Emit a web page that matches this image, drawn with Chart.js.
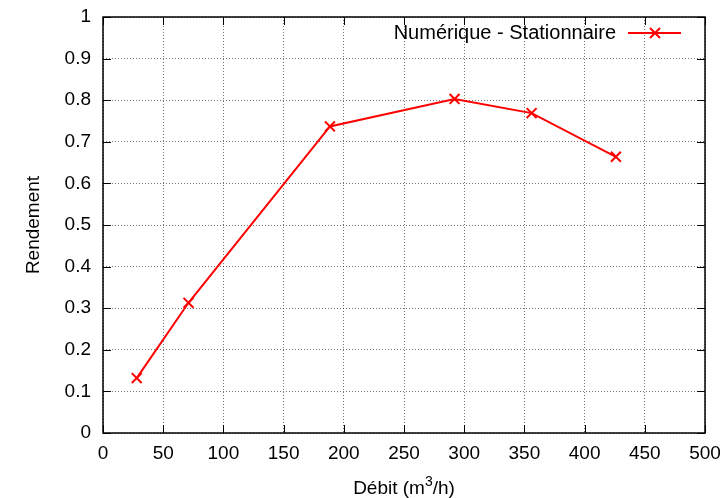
<!DOCTYPE html>
<html>
<head>
    <title>Rendement</title>
    <script src="https://cdnjs.cloudflare.com/ajax/libs/Chart.js/4.4.1/chart.umd.min.js"></script>
    <style>
        body { margin: 0; background: white; }
        #chart-container { width: 726px; height: 498px; }
    </style>
</head>
<body>
    <div id="chart-container">
        <canvas id="rendChart" width="726" height="498"></canvas>
    </div>
    <script>
        // Débit (m3/h) and rendement
        const debit = [28, 71, 188.5, 292, 356, 426];
        const rendement = [0.132, 0.313, 0.737, 0.803, 0.769, 0.664];
        const seriesName = 'Numérique - Stationnaire';
        const xTicks = [0, 50, 100, 150, 200, 250, 300, 350, 400, 450, 500];
        const yTicks = [0, 0.1, 0.2, 0.3, 0.4, 0.5, 0.6, 0.7, 0.8, 0.9, 1];

        const font = "'Liberation Sans', Arial, sans-serif";
        const fontSize = 19;

        // gnuplot-like frame: border, inward ticks on all four sides, legend, x title
        const framePlugin = {
            id: 'frame',
            afterDatasetsDraw(chart) {
                const ctx = chart.ctx;
                const a = chart.chartArea;
                const xs = chart.scales.x, ys = chart.scales.y;
                ctx.save();
                ctx.strokeStyle = '#000';
                ctx.lineWidth = 1;
                ctx.beginPath();
                xTicks.forEach(v => {
                    const px = Math.round(xs.getPixelForValue(v)) + 0.5;
                    ctx.moveTo(px, a.bottom); ctx.lineTo(px, a.bottom - 8);
                    ctx.moveTo(px, a.top); ctx.lineTo(px, a.top + 8);
                });
                yTicks.forEach(v => {
                    const py = Math.round(ys.getPixelForValue(v)) + 0.5;
                    ctx.moveTo(a.left, py); ctx.lineTo(a.left + 8, py);
                    ctx.moveTo(a.right, py); ctx.lineTo(a.right - 8, py);
                });
                ctx.stroke();
                ctx.lineWidth = 1.5;
                ctx.strokeRect(a.left, a.top, a.right - a.left, a.bottom - a.top);

                // legend
                const ly = a.top + 16;
                ctx.font = '20px ' + font;
                ctx.fillStyle = '#000';
                ctx.textAlign = 'right';
                ctx.textBaseline = 'middle';
                ctx.fillText(seriesName, a.right - 89, ly);
                ctx.strokeStyle = '#ff0000';
                ctx.lineWidth = 2;
                ctx.beginPath();
                ctx.moveTo(a.right - 77, ly); ctx.lineTo(a.right - 24, ly);
                const mx = a.right - 50, r = 5;
                ctx.moveTo(mx - r, ly - r); ctx.lineTo(mx + r, ly + r);
                ctx.moveTo(mx - r, ly + r); ctx.lineTo(mx + r, ly - r);
                ctx.stroke();

                // x axis title with a real superscript
                const parts = ['Débit (m', '3', '/h)'];
                const small = Math.round(fontSize * 0.75) + 'px ' + font;
                const big = fontSize + 'px ' + font;
                ctx.font = big; const w0 = ctx.measureText(parts[0]).width, w2 = ctx.measureText(parts[2]).width;
                ctx.font = small; const w1 = ctx.measureText(parts[1]).width;
                let tx = (a.left + a.right) / 2 - (w0 + w1 + w2) / 2;
                const ty = 494;
                ctx.fillStyle = '#000';
                ctx.textAlign = 'left';
                ctx.textBaseline = 'alphabetic';
                ctx.font = big; ctx.fillText(parts[0], tx, ty); tx += w0;
                ctx.font = small; ctx.fillText(parts[1], tx, ty - 8); tx += w1;
                ctx.font = big; ctx.fillText(parts[2], tx, ty);
                ctx.restore();
            }
        };

        const ctx = document.getElementById('rendChart').getContext('2d');
        new Chart(ctx, {
            type: 'line',
            data: {
                datasets: [{
                    label: seriesName,
                    data: debit.map((d, i) => ({ x: d, y: rendement[i] })),
                    borderColor: '#ff0000',
                    backgroundColor: '#ff0000',
                    borderWidth: 2,
                    pointStyle: 'crossRot',
                    pointRadius: 7,
                    pointBorderWidth: 2,
                    tension: 0
                }]
            },
            options: {
                responsive: false,
                animation: false,
                layout: { padding: { top: 17, right: 21, left: 0, bottom: 0 } },
                plugins: { legend: { display: false }, tooltip: { enabled: false } },
                scales: {
                    x: {
                        type: 'linear',
                        min: 0, max: 500,
                        afterBuildTicks: s => { s.ticks = xTicks.map(v => ({ value: v })); },
                        afterFit: s => { s.height = 65; s.paddingLeft = 0; s.paddingRight = 0; },
                        grid: { color: 'rgba(0,0,0,0.55)', drawTicks: false },
                        border: { display: false, dash: [1, 2] },
                        ticks: { color: '#000', font: { family: font, size: fontSize }, padding: 9 }
                    },
                    y: {
                        min: 0, max: 1,
                        afterBuildTicks: s => { s.ticks = yTicks.map(v => ({ value: v })); },
                        afterFit: s => { s.width = 103; s.paddingTop = 0; s.paddingBottom = 0; },
                        grid: { color: 'rgba(0,0,0,0.55)', drawTicks: false },
                        border: { display: false, dash: [1, 2] },
                        ticks: {
                            color: '#000', font: { family: font, size: fontSize }, padding: 12,
                            callback: v => String(Math.round(v * 10) / 10)
                        },
                        title: {
                            display: true, text: 'Rendement', color: '#000',
                            font: { family: font, size: fontSize }, padding: { top: 22, bottom: 0 }
                        }
                    }
                }
            },
            plugins: [framePlugin]
        });
    </script>
</body>
</html>
